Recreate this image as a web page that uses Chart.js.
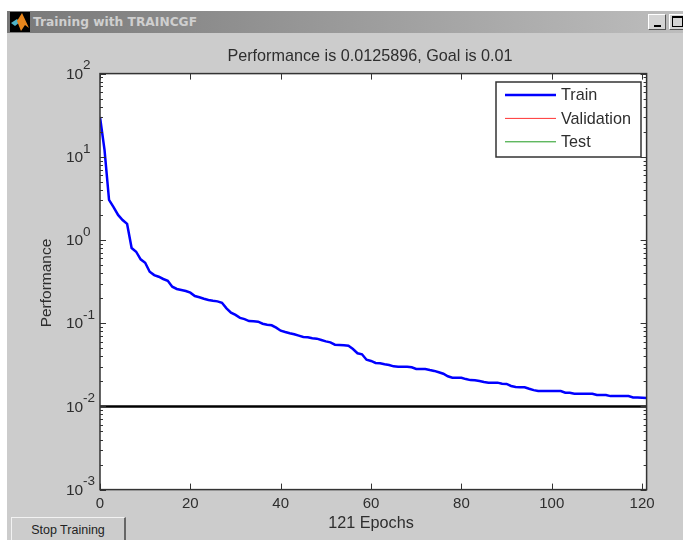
<!DOCTYPE html>
<html>
<head>
<meta charset="utf-8">
<title>Training with TRAINCGF</title>
<script src="https://cdn.jsdelivr.net/npm/chart.js@4"></script>
<style>
html, body { margin: 0; padding: 0; background: #fff; }
#win { position: relative; width: 683px; height: 540px; overflow: hidden; }
#panel { position: absolute; left: 7px; top: 11px; width: 676px; height: 529px; background: #cccccc; }
#bar { position: absolute; left: 7px; top: 11px; width: 676px; height: 22px; background: linear-gradient(to right, #787878, #bdbdbd); }
#barText { position: absolute; left: 33px; top: 15px; font: bold 12.25px "DejaVu Sans", sans-serif; color: #cfcfcf; white-space: nowrap; }
#icon { position: absolute; left: 10px; top: 12px; }
.winBtn { position: absolute; top: 14px; width: 16px; height: 14px; background: #d4d4d4; border-top: 1px solid #fff; border-left: 1px solid #fff; border-right: 1px solid #555; border-bottom: 1px solid #555; }
#stop { position: absolute; left: 11px; top: 517px; width: 112px; height: 23px; background: #cccccc; border-top: 1px solid #f2f2f2; border-left: 1px solid #f2f2f2; border-right: 2px solid #666; font: 12.5px "Liberation Sans", Arial, sans-serif; color: #222; text-align: center; line-height: 24px; }
canvas { position: absolute; left: 0; top: 0; }
</style>
</head>
<body>
<div id="win">
    <div id="panel"></div>
    <div id="bar"></div>
    <svg id="icon" width="20" height="20" viewBox="0 0 20 20">
        <rect width="20" height="20" fill="#000"/>
        <polygon points="1,11 7,7 10,10 5,14" fill="#4fb3c8"/>
        <polygon points="7,9 12,1 19,16 15,13 11,19" fill="#e8861c"/>
    </svg>
    <div id="barText">Training with TRAINCGF</div>
    <div class="winBtn" style="left:648px"><div style="position:absolute;left:5px;top:10px;width:7px;height:2px;background:#000"></div></div>
    <div class="winBtn" style="left:669px"><div style="position:absolute;left:2px;top:1px;width:9px;height:8px;border:1px solid #000;border-top-width:2px"></div></div>
    <canvas id="perfChart" width="683" height="540"></canvas>
    <div id="stop">Stop Training</div>
</div>
<script>
// values, index is the epoch
const trainPerf = [
    30.1, 12.1, 3.03, 2.49, 2.0, 1.74, 1.56, 0.80, 0.723, 0.586,
    0.533, 0.416, 0.379, 0.362, 0.340, 0.324, 0.275, 0.258, 0.251, 0.244,
    0.233, 0.212, 0.205, 0.197, 0.190, 0.186, 0.183, 0.176, 0.151, 0.134,
    0.126, 0.116, 0.112, 0.106, 0.1054, 0.1042, 0.0986, 0.0959, 0.0944, 0.0883,
    0.0813, 0.0783, 0.0757, 0.0736, 0.0708, 0.0682, 0.0678, 0.0659, 0.0652, 0.0628,
    0.0605, 0.0589, 0.0552, 0.0547, 0.0542, 0.0535, 0.0490, 0.0435, 0.0423, 0.0364,
    0.0352, 0.0333, 0.0330, 0.0321, 0.0315, 0.0303, 0.0300, 0.0300, 0.0300, 0.0295,
    0.0282, 0.0282, 0.0282, 0.0274, 0.0267, 0.0257, 0.0247, 0.0230, 0.0221, 0.0221,
    0.0221, 0.0213, 0.0207, 0.0206, 0.0202, 0.0196, 0.0193, 0.0193, 0.0193, 0.0187,
    0.0186, 0.0176, 0.0171, 0.0170, 0.0170, 0.0163, 0.0157, 0.0153, 0.0153, 0.0153,
    0.0153, 0.0153, 0.0153, 0.0146, 0.0146, 0.0142, 0.0142, 0.0142, 0.0142, 0.0142,
    0.0137, 0.0137, 0.0137, 0.0133, 0.0133, 0.0133, 0.0133, 0.0133, 0.0128, 0.0128,
    0.0127, 0.0126
];
const goalEpochs = [0, 121];
const goalValues = [0.01, 0.01];
const xTicks = [0, 20, 40, 60, 80, 100, 120];
const yExponents = [-3, -2, -1, 0, 1, 2];
const minorSteps = [2, 3, 4, 5, 6, 7, 8, 9];
const chartTitle = "Performance is 0.0125896, Goal is 0.01";
const xLabel = "121 Epochs";
const yLabel = "Performance";

const textFont = '"Liberation Sans", Arial, sans-serif';
const axisColor = "#333";
const textColor = "#2e2e2e";

// MATLAB style box, ticks on all four sides, exponents as raised text
const matlabAxes = {
    id: "matlabAxes",
    beforeDatasetsDraw(chart) {
        let a = chart.chartArea;
        chart.ctx.fillStyle = "#fff";
        chart.ctx.fillRect(a.left, a.top, a.width, a.height);
    },
    afterDatasetsDraw(chart) {
        let ctx = chart.ctx;
        let a = chart.chartArea;
        let x = chart.scales.x;
        let y = chart.scales.y;
        ctx.save();
        ctx.strokeStyle = axisColor;
        ctx.lineWidth = 1;
        ctx.beginPath();
        xTicks.forEach((t) => {
            let px = Math.round(x.getPixelForValue(t)) + 0.5;
            ctx.moveTo(px, a.bottom);
            ctx.lineTo(px, a.bottom - 6);
            ctx.moveTo(px, a.top);
            ctx.lineTo(px, a.top + 6);
        });
        yExponents.forEach((e) => {
            let py = Math.round(y.getPixelForValue(Math.pow(10, e))) + 0.5;
            ctx.moveTo(a.left, py);
            ctx.lineTo(a.left + 6, py);
            ctx.moveTo(a.right, py);
            ctx.lineTo(a.right - 6, py);
            if (e < 2) {
                minorSteps.forEach((m) => {
                    let pm = Math.round(y.getPixelForValue(m * Math.pow(10, e))) + 0.5;
                    ctx.moveTo(a.left, pm);
                    ctx.lineTo(a.left + 3, pm);
                    ctx.moveTo(a.right, pm);
                    ctx.lineTo(a.right - 3, pm);
                });
            }
        });
        ctx.stroke();
        ctx.lineWidth = 1.5;
        ctx.strokeRect(a.left, a.top, a.width, a.height);

        ctx.fillStyle = textColor;
        ctx.textBaseline = "middle";
        ctx.textAlign = "center";
        ctx.font = "15px " + textFont;
        xTicks.forEach((t) => {
            ctx.fillText(String(t), x.getPixelForValue(t), 504);
        });
        ctx.font = "16.2px " + textFont;
        ctx.fillText(chartTitle, 370, 57);
        ctx.fillText(xLabel, 371, 524);
        ctx.textAlign = "left";
        yExponents.forEach((e) => {
            let py = y.getPixelForValue(Math.pow(10, e));
            ctx.font = "15.5px " + textFont;
            ctx.fillText("10", 66, py + 1);
            ctx.font = "13.5px " + textFont;
            ctx.fillText(String(e), 83, py - 8);
        });
        ctx.font = "15.5px " + textFont;
        ctx.textAlign = "center";
        ctx.translate(46.5, 283);
        ctx.rotate(-Math.PI / 2);
        ctx.fillText(yLabel, 0, 0);
        ctx.restore();
    },
    afterDraw(chart) {
        // legend box inside the plot, entries come from the datasets
        let ctx = chart.ctx;
        let items = chart.data.datasets.filter((d) => d.label);
        ctx.save();
        ctx.fillStyle = "#fff";
        ctx.strokeStyle = axisColor;
        ctx.lineWidth = 1.5;
        ctx.fillRect(496, 82, 145, 75);
        ctx.strokeRect(496, 82, 145, 75);
        ctx.font = "16.2px " + textFont;
        ctx.textBaseline = "middle";
        ctx.textAlign = "left";
        items.forEach((d, i) => {
            let ly = 95 + i * 23.4;
            ctx.strokeStyle = d.borderColor;
            ctx.lineWidth = d.borderWidth;
            ctx.beginPath();
            ctx.moveTo(505, ly);
            ctx.lineTo(556, ly);
            ctx.stroke();
            ctx.fillStyle = textColor;
            ctx.fillText(d.label, 561, ly + 1);
        });
        ctx.restore();
    },
};

new Chart(document.getElementById("perfChart"), {
    type: "line",
    data: {
        datasets: [
            {
                label: "Train",
                data: trainPerf.map((v, i) => ({ x: i, y: v })),
                borderColor: "#0000ff",
                borderWidth: 2.5,
                pointRadius: 0,
                tension: 0,
            },
            {
                label: "Validation",
                data: [],
                borderColor: "#ff3333",
                borderWidth: 1,
                pointRadius: 0,
            },
            {
                label: "Test",
                data: [],
                borderColor: "#1f9a1f",
                borderWidth: 1,
                pointRadius: 0,
            },
            {
                data: goalEpochs.map((e, i) => ({ x: e, y: goalValues[i] })),
                borderColor: "#000",
                borderWidth: 2.5,
                pointRadius: 0,
            },
        ],
    },
    options: {
        responsive: false,
        animation: false,
        layout: { padding: { left: 100, right: 36.4, top: 73.6, bottom: 50.4 } },
        plugins: { legend: { display: false }, tooltip: { enabled: false } },
        scales: {
            x: { type: "linear", min: 0, max: 121, display: false },
            y: { type: "logarithmic", min: 0.001, max: 100, display: false },
        },
    },
    plugins: [matlabAxes],
});
</script>
</body>
</html>
